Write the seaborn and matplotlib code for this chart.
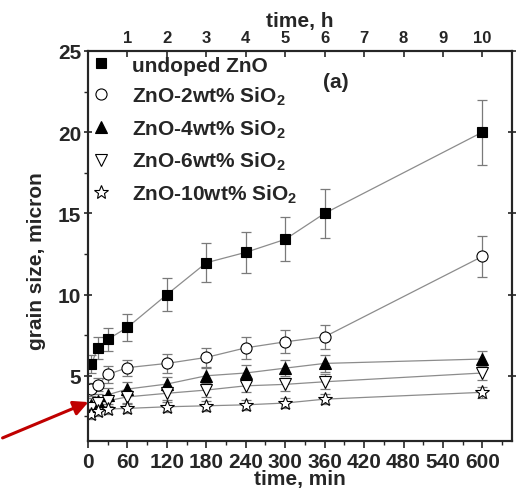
import numpy as np
import pandas as pd
import matplotlib
matplotlib.use("Agg")
import matplotlib.pyplot as plt
from matplotlib.lines import Line2D
from matplotlib.ticker import MultipleLocator
import seaborn as sns

# ---- data ----
time_min = [5, 15, 30, 60, 120, 180, 240, 300, 360, 600]
labels = ["undoped ZnO", r"ZnO-2wt% SiO$_{\mathbf{2}}$", r"ZnO-4wt% SiO$_{\mathbf{2}}$",
          r"ZnO-6wt% SiO$_{\mathbf{2}}$", r"ZnO-10wt% SiO$_{\mathbf{2}}$"]
undoped = [5.72, 6.72, 7.24, 7.98, 10.0, 11.96, 12.6, 13.4, 15.0, 20.0]
undoped_err = [0.56, 0.67, 0.7, 0.82, 1.0, 1.2, 1.25, 1.35, 1.5, 2.0]
si2 = [4.16, 4.45, 5.08, 5.5, 5.76, 6.13, 6.72, 7.09, 7.4, 12.35]
si2_err = [0.4, 0.4, 0.52, 0.5, 0.6, 0.6, 0.68, 0.7, 0.73, 1.25]
si4 = [3.2, 3.46, 3.83, 4.18, 4.49, 5.0, 5.17, 5.47, 5.76, 6.03]
si4_err = [0.4, 0.4, 0.4, 0.45, 0.45, 0.45, 0.5, 0.5, 0.5, 0.5]
si6 = [3.0, 3.3, 3.46, 3.7, 3.92, 4.12, 4.38, 4.47, 4.63, 5.17]
si6_err = [0.35, 0.35, 0.35, 0.4, 0.4, 0.4, 0.4, 0.4, 0.45, 0.45]
si10 = [2.64, 2.85, 2.95, 2.99, 3.09, 3.15, 3.21, 3.32, 3.56, 3.98]
si10_err = [0.3, 0.3, 0.3, 0.3, 0.3, 0.3, 0.3, 0.3, 0.3, 0.35]
hour_ticks = [1, 2, 3, 4, 5, 6, 7, 8, 9, 10]
min_ticks = [0, 60, 120, 180, 240, 300, 360, 420, 480, 540, 600]

series = [undoped, si2, si4, si6, si10]
errors = [undoped_err, si2_err, si4_err, si6_err, si10_err]
marker_styles = [("s", "black", 7), ("o", "white", 8), ("^", "black", 8),
                 ("v", "white", 9), ("*", "white", 10)]

sns.set_theme(style="white")
plt.rcParams["font.family"] = ["Liberation Sans", "DejaVu Sans"]
plt.rcParams["font.weight"] = "bold"
plt.rcParams["mathtext.fontset"] = "custom"
plt.rcParams["mathtext.rm"] = "Liberation Sans:bold"
plt.rcParams["mathtext.bf"] = "Liberation Sans:bold"

fig = plt.figure(figsize=(5.24, 4.89), dpi=100)
ax = fig.add_axes([0.168, 0.0967, 0.809, 0.797])

rows = []
for lab, vals in zip(labels, series):
    for t, v in zip(time_min, vals):
        rows.append({"series": lab, "time": t, "size": v})
df = pd.DataFrame(rows)

for lab, vals, errs, (m, fc, ms) in zip(labels, series, errors, marker_styles):
    sub = df[df["series"] == lab]
    sns.lineplot(data=sub, x="time", y="size", ax=ax, color="#8c8c8c", lw=0.9,
                 legend=False, zorder=2)
    ax.errorbar(time_min, vals, yerr=errs, fmt="none", ecolor="#7a7a7a",
                elinewidth=0.9, capsize=3.5, capthick=0.9, zorder=3)
    ax.plot(time_min, vals, linestyle="none", marker=m, markersize=ms,
            markerfacecolor=fc, markeredgecolor="black", markeredgewidth=0.8,
            zorder=4)

ax.set_xlim(0, 645)
ax.set_ylim(1, 25)
ax.set_xticks(min_ticks)
ax.xaxis.set_minor_locator(MultipleLocator(30))
ax.yaxis.set_major_locator(MultipleLocator(5))
ax.yaxis.set_minor_locator(MultipleLocator(2.5))
ax.set_yticks([5, 10, 15, 20, 25])
ax.tick_params(axis="x", which="major", direction="out", length=5, width=1.2,
               labelsize=15, pad=3, bottom=True, top=False)
ax.tick_params(axis="x", which="minor", direction="out", length=3, width=1.0,
               bottom=True, top=False)
ax.tick_params(axis="y", which="major", direction="inout", length=6, width=1.2,
               labelsize=15, pad=2, left=True, right=True)
ax.tick_params(axis="y", which="minor", direction="out", length=3, width=1.0,
               left=True, right=False)
for lbl in ax.get_xticklabels() + ax.get_yticklabels():
    lbl.set_fontweight("bold")
for s in ax.spines.values():
    s.set_linewidth(1.5)
    s.set_color("black")

ax.set_xlabel("time, min", fontsize=15, fontweight="bold", labelpad=-1)
ax.set_ylabel("grain size, micron", fontsize=15, fontweight="bold")
ax.yaxis.set_label_coords(-0.098, 0.464)

ax2 = ax.twiny()
ax2.set_xlim(0, 645 / 60)
ax2.set_xticks(hour_ticks)
ax2.set_xticklabels([str(h) for h in hour_ticks], fontsize=12, fontweight="bold")
ax2.tick_params(axis="x", direction="in", length=4, width=1.2, pad=4, top=True)
for s in ax2.spines.values():
    s.set_linewidth(1.5)
ax2.set_xlabel("time, h", fontsize=15, fontweight="bold", labelpad=3)

handles = [Line2D([0], [0], linestyle="none", marker=m, markersize=ms,
                  markerfacecolor=fc, markeredgecolor="black", markeredgewidth=0.8)
           for (m, fc, ms) in marker_styles]
leg = ax.legend(handles, labels, loc="upper left", frameon=False,
                prop={"size": 15, "weight": "bold"}, handlelength=1.0,
                handletextpad=1.0, labelspacing=0.48, borderaxespad=0.2,
                bbox_to_anchor=(-0.024, 1.02))

ax.text(0.554, 0.907, "(a)", transform=ax.transAxes, fontsize=15,
        fontweight="bold", va="baseline")

# red arrow
fig.patches.append(matplotlib.patches.FancyArrowPatch(
    (0 / 524, 1 - 440 / 489), (91 / 524, 1 - 402 / 489),
    transform=fig.transFigure, arrowstyle="-|>", mutation_scale=22,
    color="#c00000", lw=2.2))

fig.savefig("out.png", dpi=100, facecolor="white")
